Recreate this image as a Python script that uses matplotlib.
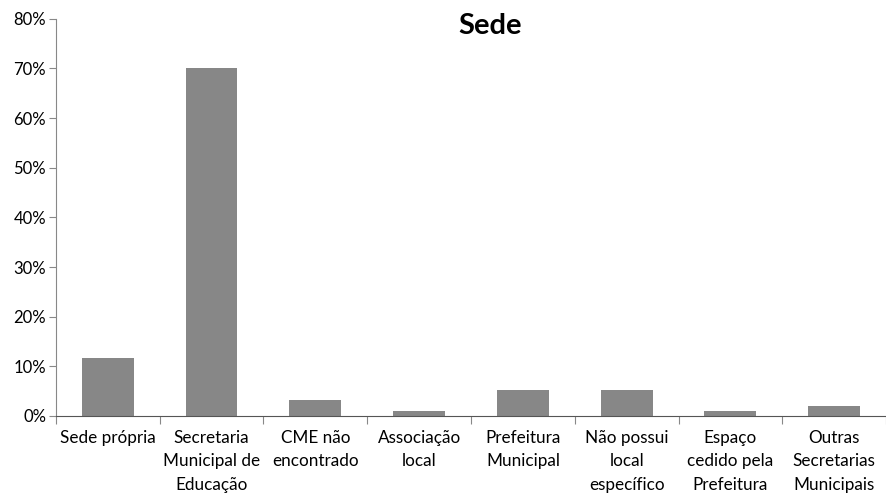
import matplotlib
matplotlib.use("Agg")
import matplotlib.pyplot as plt
from matplotlib.ticker import FuncFormatter, MultipleLocator

categories = ["Sede própria", "Secretaria\nMunicipal de\nEducação", "CME não\nencontrado",
              "Associação\nlocal", "Prefeitura\nMunicipal", "Não possui\nlocal\nespecífico",
              "Espaço\ncedido pela\nPrefeitura", "Outras\nSecretarias\nMunicipais"]
values = [11.7, 70.0, 3.2, 1.0, 5.2, 5.2, 1.0, 2.0]

plt.rcParams['font.family'] = ['Lato', 'DejaVu Sans']

fig = plt.figure(figsize=(8.87, 4.94), dpi=100)
ax = fig.add_axes([0.063, 0.158, 0.936, 0.804])

x = list(range(len(categories)))
ax.bar(x, values, width=0.5, color="#878787")
ax.set_xlim(-0.5, len(categories) - 0.5)
ax.set_ylim(0, 80)
ax.yaxis.set_major_locator(MultipleLocator(10))
ax.yaxis.set_major_formatter(FuncFormatter(lambda v, p: f"{v:.0f}%"))

ax.set_xticks([i - 0.5 for i in range(len(categories) + 1)])
ax.set_xticklabels([])
ax.set_xticks(x, minor=True)
ax.set_xticklabels(categories, minor=True, fontsize=12.3, linespacing=1.58, va="top")
ax.tick_params(axis="x", which="minor", length=0, pad=10)
ax.tick_params(axis="x", which="major", length=6, color="#888888", direction="out")
ax.tick_params(axis="y", length=5, color="#888888", labelsize=12, pad=2)

for s in ["top", "right"]:
    ax.spines[s].set_visible(False)
ax.spines["left"].set_color("#888888")
ax.spines["bottom"].set_color("#555555")

fig.text(0.552, 0.948, "Sede", ha="center", va="center", fontsize=21, fontweight="bold")

fig.savefig("out.png", dpi=100)
